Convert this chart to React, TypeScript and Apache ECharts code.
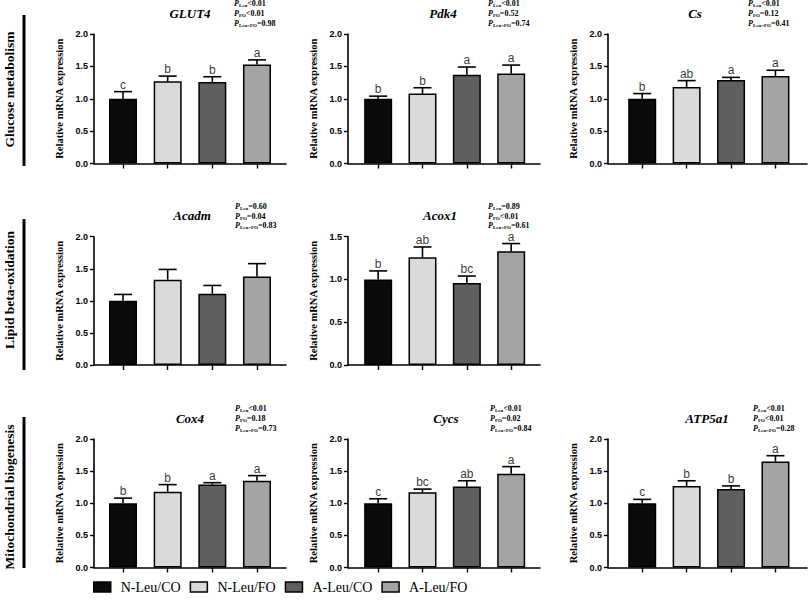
import React, { useEffect, useRef } from "react";
import * as echarts from "echarts";

// ---- Data ----
const groups = ["N-Leu/CO", "N-Leu/FO", "A-Leu/CO", "A-Leu/FO"];
const groupColors = ["#0b0b0b", "#d9d9d9", "#5f5f5f", "#a4a4a4"];
const rowLabels = ["Glucose metabolism", "Lipid beta-oxidation", "Mitochondrial biogenesis"];
const yAxisName = "Relative mRNA expression";

const GLUT4_mean = [1.0, 1.27, 1.26, 1.53];
const GLUT4_sem = [0.11, 0.08, 0.08, 0.07];
const GLUT4_letters = ["c", "b", "b", "a"];
const GLUT4_p = ["<0.01", "<0.01", "=0.98"];

const Pdk4_mean = [1.0, 1.08, 1.37, 1.39];
const Pdk4_sem = [0.04, 0.09, 0.12, 0.13];
const Pdk4_letters = ["b", "b", "a", "a"];
const Pdk4_p = ["<0.01", "=0.52", "=0.74"];

const Cs_mean = [1.0, 1.18, 1.29, 1.35];
const Cs_sem = [0.08, 0.1, 0.04, 0.09];
const Cs_letters = ["b", "ab", "a", "a"];
const Cs_p = ["<0.01", "=0.12", "=0.41"];

const Acadm_mean = [1.0, 1.33, 1.11, 1.38];
const Acadm_sem = [0.1, 0.16, 0.13, 0.2];
const Acadm_letters = ["", "", "", ""];
const Acadm_p = ["=0.60", "=0.04", "=0.83"];

const Acox1_mean = [1.0, 1.26, 0.96, 1.33];
const Acox1_sem = [0.1, 0.12, 0.08, 0.09];
const Acox1_letters = ["b", "ab", "bc", "a"];
const Acox1_p = ["=0.89", "<0.01", "=0.61"];

const Cox4_mean = [1.0, 1.18, 1.29, 1.35];
const Cox4_sem = [0.08, 0.11, 0.03, 0.08];
const Cox4_letters = ["b", "b", "a", "a"];
const Cox4_p = ["<0.01", "=0.18", "=0.73"];

const Cycs_mean = [1.0, 1.17, 1.26, 1.46];
const Cycs_sem = [0.07, 0.05, 0.09, 0.11];
const Cycs_letters = ["c", "bc", "ab", "a"];
const Cycs_p = ["<0.01", "=0.02", "=0.84"];

const ATP5a1_mean = [1.0, 1.27, 1.22, 1.65];
const ATP5a1_sem = [0.06, 0.08, 0.05, 0.09];
const ATP5a1_letters = ["c", "b", "b", "a"];
const ATP5a1_p = ["<0.01", "<0.01", "=0.28"];

const yMaxes = [2, 2, 2, 2, 1.5, 2, 2, 2];

const panels = [
  { gene: "GLUT4", mean: GLUT4_mean, sem: GLUT4_sem, letters: GLUT4_letters, p: GLUT4_p, row: 0, col: 0 },
  { gene: "Pdk4", mean: Pdk4_mean, sem: Pdk4_sem, letters: Pdk4_letters, p: Pdk4_p, row: 0, col: 1 },
  { gene: "Cs", mean: Cs_mean, sem: Cs_sem, letters: Cs_letters, p: Cs_p, row: 0, col: 2 },
  { gene: "Acadm", mean: Acadm_mean, sem: Acadm_sem, letters: Acadm_letters, p: Acadm_p, row: 1, col: 0 },
  { gene: "Acox1", mean: Acox1_mean, sem: Acox1_sem, letters: Acox1_letters, p: Acox1_p, row: 1, col: 1 },
  { gene: "Cox4", mean: Cox4_mean, sem: Cox4_sem, letters: Cox4_letters, p: Cox4_p, row: 2, col: 0 },
  { gene: "Cycs", mean: Cycs_mean, sem: Cycs_sem, letters: Cycs_letters, p: Cycs_p, row: 2, col: 1 },
  { gene: "ATP5a1", mean: ATP5a1_mean, sem: ATP5a1_sem, letters: ATP5a1_letters, p: ATP5a1_p, row: 2, col: 2 },
];

// ---- Layout ----
const colLeft = [94, 348, 608];
const colWidth = [192, 192, 199];
const xMin = [-0.65, -0.68, -0.77];
const xMax = [3.65, 3.65, 3.71];
const rowTop = [34, 236.7, 439];
const rowHeight = [129.5, 128.3, 128.5];
const titleX = [190, 443, 695, 192, 440, 190, 446, 707];
const pTextX = [234, 488, 748, 235, 488, 235, 490, 753];
const rowLabelY = [89.5, 290, 497];
const rowBarY = [15, 219, 417];

const SERIF = '"Liberation Serif", "Times New Roman", serif';
const SANS = '"Liberation Sans", Arial, sans-serif';

function buildOption() {
  const grid: any[] = [];
  const xAxis: any[] = [];
  const yAxis: any[] = [];
  const series: any[] = [];
  const graphic: any[] = [];

  panels.forEach((pn, i) => {
    grid.push({
      left: colLeft[pn.col],
      top: rowTop[pn.row],
      width: colWidth[pn.col],
      height: rowHeight[pn.row],
      containLabel: false,
    });
    xAxis.push({
      type: "value",
      gridIndex: i,
      min: xMin[pn.col],
      max: xMax[pn.col],
      axisLine: { show: true, onZero: false, lineStyle: { color: "#000", width: 1.6 } },
      axisTick: { show: true, customValues: [0, 1, 2, 3], length: 5, lineStyle: { color: "#000", width: 1.4 } },
      axisLabel: { show: false },
      splitLine: { show: false },
    });
    yAxis.push({
      type: "value",
      gridIndex: i,
      min: 0,
      max: yMaxes[i],
      interval: 0.5,
      name: yAxisName,
      nameLocation: "middle",
      nameRotate: 90,
      nameGap: 29,
      nameTextStyle: { fontFamily: SERIF, fontWeight: "bold", fontSize: 10.5, color: "#000" },
      axisLine: { show: true, onZero: false, lineStyle: { color: "#000", width: 1.6 } },
      axisTick: { show: true, length: 4, lineStyle: { color: "#000", width: 1.4 } },
      axisLabel: {
        margin: 6,
        fontFamily: SANS,
        fontWeight: "bold",
        fontSize: 9,
        color: "#000",
        formatter: (v: number) => v.toFixed(1),
      },
      splitLine: { show: false },
    });
    groups.forEach((g, k) => {
      series.push({
        type: "bar",
        name: g,
        xAxisIndex: i,
        yAxisIndex: i,
        barWidth: 28,
        barGap: "-100%",
        data: [[k, pn.mean[k]]],
        itemStyle: { color: groupColors[k], borderColor: "#000", borderWidth: 1.5 },
        silent: true,
      });
    });
    // error bars (upper SEM)
    series.push({
      type: "custom",
      name: pn.gene + " SEM",
      xAxisIndex: i,
      yAxisIndex: i,
      z: 5,
      silent: true,
      data: pn.mean.map((m, k) => [k, m, pn.sem[k]]),
      renderItem: (params: any, api: any) => {
        const x = api.value(0);
        const m = api.value(1);
        const s = api.value(2);
        const base = api.coord([x, m]);
        const top = api.coord([x, m + s]);
        const cap = 9;
        return {
          type: "group",
          children: [
            { type: "line", shape: { x1: base[0], y1: base[1], x2: top[0], y2: top[1] }, style: { stroke: "#000", lineWidth: 1.6 } },
            { type: "line", shape: { x1: top[0] - cap, y1: top[1], x2: top[0] + cap, y2: top[1] }, style: { stroke: "#000", lineWidth: 1.6 } },
          ],
        };
      },
    });
    // significance letters placed above the error bars
    const letters = pn.letters;
    series.push({
      type: "scatter",
      name: pn.gene + " letters",
      xAxisIndex: i,
      yAxisIndex: i,
      z: 6,
      silent: true,
      symbolSize: 0,
      itemStyle: { color: "transparent" },
      data: pn.mean.map((m, k) => [k, m + pn.sem[k]]),
      label: {
        show: true,
        position: "top",
        distance: 1,
        fontFamily: SANS,
        fontSize: 12,
        color: "#000",
        formatter: (p: any) => letters[p.dataIndex],
      },
    });

    // gene title
    graphic.push({
      type: "text",
      x: titleX[i],
      y: rowTop[pn.row] - 21,
      style: {
        text: pn.gene,
        align: "center",
        verticalAlign: "middle",
        font: "italic bold 13px " + SERIF,
        fill: "#000",
      },
    });
    // P values
    const subs = ["Leu", "FO", "Leu×FO"];
    const txt = pn.p.map((v, k) => "{p|P}{s|" + subs[k] + "}{v|" + v + "}").join("\n");
    graphic.push({
      type: "text",
      x: pTextX[i],
      y: rowTop[pn.row] - 35,
      style: {
        text: txt,
        align: "left",
        verticalAlign: "top",
        fill: "#000",
        rich: {
          p: { fontFamily: SERIF, fontWeight: "bold", fontStyle: "italic", fontSize: 8, lineHeight: 9.6, fill: "#000" },
          s: { fontFamily: SERIF, fontWeight: "bold", fontSize: 5, lineHeight: 9.6, padding: [4, 0, 0, 0], fill: "#000" },
          v: { fontFamily: SERIF, fontWeight: "bold", fontSize: 8, lineHeight: 9.6, fill: "#000" },
        },
      },
    });
  });

  rowLabels.forEach((lab, r) => {
    graphic.push({
      type: "text",
      x: 9,
      y: rowLabelY[r],
      rotation: Math.PI / 2,
      style: {
        text: lab,
        align: "center",
        verticalAlign: "middle",
        font: "bold 13.5px " + SERIF,
        fill: "#000",
      },
    });
    graphic.push({
      type: "rect",
      shape: { x: 22.5, y: rowBarY[r], width: 3, height: 151 },
      style: { fill: "#000" },
    });
  });

  return {
    animation: false,
    backgroundColor: "#fff",
    grid,
    xAxis,
    yAxis,
    series,
    graphic,
    legend: {
      data: groups,
      left: 93,
      top: 580,
      padding: 0,
      itemWidth: 17,
      itemHeight: 10,
      itemGap: 9,
      icon: "rect",
      selectedMode: false,
      itemStyle: { borderColor: "#000", borderWidth: 1.5 },
      textStyle: { fontFamily: SERIF, fontSize: 14, color: "#000", padding: [0, 0, 0, 5] },
    },
  };
}

export default function App() {
  const ref = useRef<HTMLDivElement>(null);
  useEffect(() => {
    if (!ref.current) return;
    const chart = echarts.init(ref.current, undefined, { renderer: "svg" });
    chart.setOption(buildOption() as any);
    return () => chart.dispose();
  }, []);
  return (
    <div
      ref={ref}
      style={{ position: "absolute", left: 0, top: 0, width: 808, height: 609, background: "#fff" }}
    />
  );
}
